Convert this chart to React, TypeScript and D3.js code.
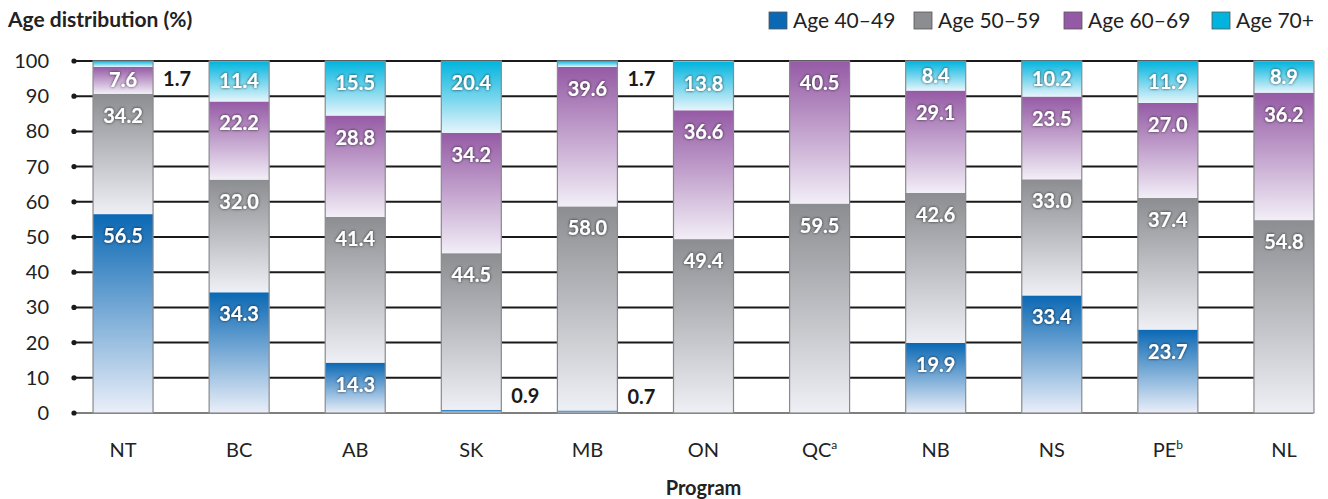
import * as d3 from 'd3'

const programs = ['NT', 'BC', 'AB', 'SK', 'MB', 'ON', 'QC', 'NB', 'NS', 'PE', 'NL']
const programSup: Record<string, string> = { QC: 'a', PE: 'b' }
const ageGroups = ['Age 40–49', 'Age 50–59', 'Age 60–69', 'Age 70+']
const age4049 = [56.5, 34.3, 14.3, 0.9, 0.7, 0, 0, 19.9, 33.4, 23.7, 0]
const age5059 = [34.2, 32.0, 41.4, 44.5, 58.0, 49.4, 59.5, 42.6, 33.0, 37.4, 54.8]
const age6069 = [7.6, 22.2, 28.8, 34.2, 39.6, 36.6, 40.5, 29.1, 23.5, 27.0, 36.2]
const age70 = [1.7, 11.4, 15.5, 20.4, 1.7, 13.8, 0, 8.4, 10.2, 11.9, 8.9]
const yTicks = [0, 10, 20, 30, 40, 50, 60, 70, 80, 90, 100]

const colors = ['#0a68b4', '#8c8d91', '#955aa5', '#00b4de']
const fades = ['#eaeff9', '#eef0f5', '#f2eef7', '#e6f5fb']
const legendX = [769, 914, 1064, 1212]

const W = 1328
const H = 499
const font = 'Lato, "Open Sans", sans-serif'

export default function App() {
  const series = [age4049, age5059, age6069, age70]
  const table = programs.map((p, i) => {
    const row: Record<string, number | string> = { program: p }
    ageGroups.forEach((g, k) => { row[g] = series[k][i] })
    return row
  })
  const stacked = d3.stack<Record<string, number | string>>()
    .keys(ageGroups)
    .value((d, key) => d[key] as number)(table)

  const x = d3.scaleBand<string>().domain(programs).range([65, 1342]).paddingInner(0.483).paddingOuter(0.2415)
  const y = d3.scaleLinear().domain([0, 100]).range([413, 61])
  const gridX0 = 74
  const gridX1 = 1313
  const bw = x.bandwidth()

  return (
    <svg width={W} height={H} style={{ position: 'absolute', left: 0, top: 0, fontFamily: font }}>
      <defs>
        {colors.map((c, k) => (
          <linearGradient key={k} id={`grad${k}`} x1="0" y1="0" x2="0" y2="1">
            <stop offset="0%" stopColor={c} />
            <stop offset="100%" stopColor={fades[k]} />
          </linearGradient>
        ))}
        <filter id="glow" x="-20%" y="-30%" width="140%" height="160%">
          <feDropShadow dx="0" dy="0" stdDeviation="1.6" floodColor="#000" floodOpacity="0.75" />
        </filter>
      </defs>
      <rect width={W} height={H} fill="#fff" />

      <text x={8} y={27} fontSize={21} fontWeight={700} fill="#222">Age distribution (%)</text>

      {ageGroups.map((g, k) => (
        <g key={g}>
          <rect x={legendX[k]} y={12} width={18} height={17} fill={colors[k]} stroke="#555" strokeWidth={0.8} />
          <text x={legendX[k] + 24} y={28} fontSize={21} fill="#222">{g}</text>
        </g>
      ))}

      {/* grid + y axis */}
      {yTicks.map(t => (
        <g key={t}>
          <line x1={gridX0} x2={gridX1} y1={y(t)} y2={y(t)} stroke={t === 0 ? '#555' : '#1a1a1a'} strokeWidth={t === 0 ? 1.5 : 2} />
          <circle cx={gridX0} cy={y(t)} r={2.6} fill="#1a1a1a" />
          <text x={49} y={y(t) + 7} fontSize={20} textAnchor="end" fill="#222">{t}</text>
        </g>
      ))}

      {/* bars */}
      {programs.map((p, i) => {
        const x0 = x(p)!
        return (
          <g key={p}>
            <rect x={x0} y={y(100)} width={bw} height={y(0) - y(100)} fill="#fff" />
            {stacked.map((s, k) => {
              const [a, b] = s[i]
              if (b - a <= 0) return null
              return <rect key={k} x={x0} y={y(b)} width={bw} height={y(a) - y(b)} fill={`url(#grad${k})`} />
            })}
            <rect x={x0} y={y(100)} width={bw} height={y(0) - y(100)} fill="none" stroke="#8a8a8e" strokeWidth={1.2} />
          </g>
        )
      })}

      {/* value labels */}
      {programs.map((p, i) => {
        const x0 = x(p)!
        return stacked.map((s, k) => {
          const [a, b] = s[i]
          const v = b - a
          if (v <= 0) return null
          if (v < 3) {
            const cy = (y(a) + y(b)) / 2
            const ly = b >= 99 ? cy + 22 : cy - 8
            return (
              <text key={`${p}${k}`} x={x0 + bw + 24} y={ly} fontSize={20} fontWeight={700} textAnchor="middle" fill="#1a1a1a">
                {v.toFixed(1)}
              </text>
            )
          }
          const top = y(b)
          const h = y(a) - y(b)
          const cy = Math.min(top + 22, top + h / 2)
          return (
            <text key={`${p}${k}`} x={x0 + bw / 2} y={cy + 7} fontSize={20} fontWeight={700} textAnchor="middle" fill="#fff" filter="url(#glow)">
              {v.toFixed(1)}
            </text>
          )
        })
      })}

      {/* category axis */}
      {programs.map(p => (
        <text key={p} x={x(p)! + bw / 2} y={457} fontSize={20} textAnchor="middle" fill="#222">
          {p}
          {programSup[p] && <tspan fontSize={12} dy={-8}>{programSup[p]}</tspan>}
        </text>
      ))}
      <text x={x('ON')! + bw / 2} y={495} fontSize={20} fontWeight={700} textAnchor="middle" fill="#222">Program</text>
    </svg>
  )
}
